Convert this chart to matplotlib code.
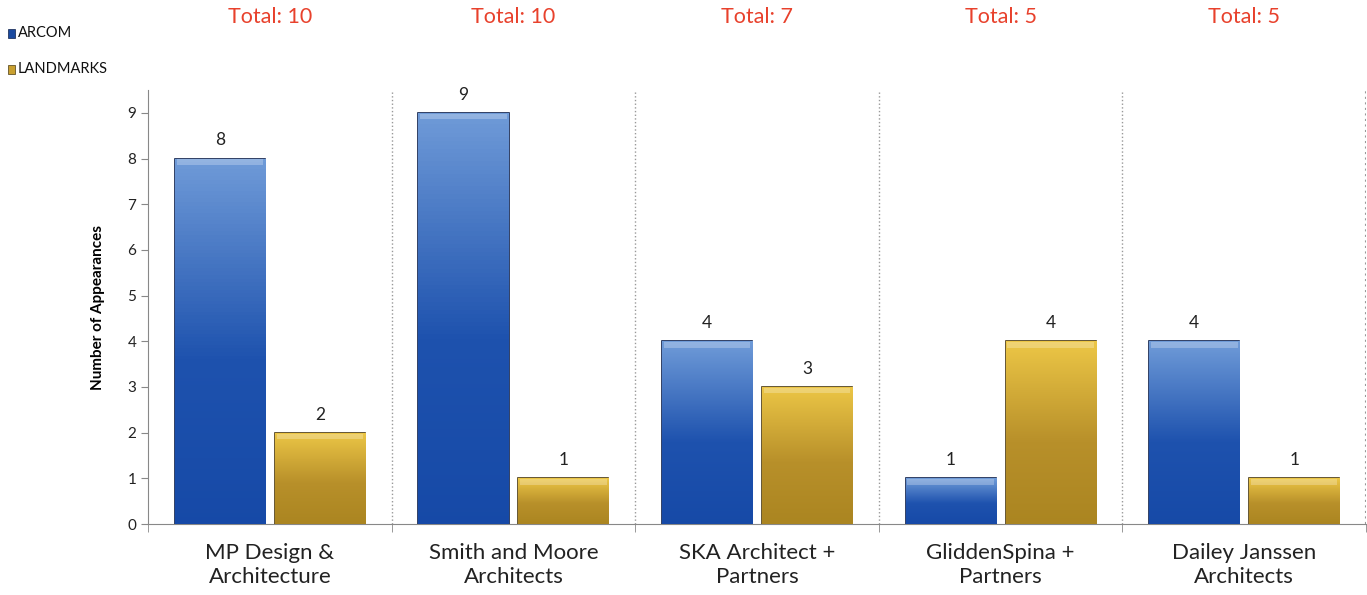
import matplotlib
matplotlib.use("Agg")
import matplotlib.pyplot as plt
import matplotlib.transforms as mtransforms
import numpy as np
from matplotlib.colors import LinearSegmentedColormap

plt.rcParams['font.family'] = ['Lato', 'DejaVu Sans']

firms = ["MP Design &\nArchitecture", "Smith and Moore\nArchitects", "SKA Architect +\nPartners",
         "GliddenSpina +\nPartners", "Dailey Janssen\nArchitects"]
arcom = [8, 9, 4, 1, 4]
landmarks = [2, 1, 3, 4, 1]
totals = [a + b for a, b in zip(arcom, landmarks)]

fig = plt.figure(figsize=(13.67, 5.95), dpi=100)
ax = fig.add_axes([0.1083, 0.1193, 0.8910, 0.7294])

x = np.arange(len(firms))
w = 0.37
off = 0.205

blue_cm = LinearSegmentedColormap.from_list("b", ["#1548a6", "#1e52ae", "#6f9bd8"])
gold_cm = LinearSegmentedColormap.from_list("g", ["#a8831f", "#b8902a", "#ecc646"])

def draw_bars(xs, vals, cmap, edge, label):
    bars = ax.bar(xs, vals, w, color=cmap(0.4), edgecolor=edge, linewidth=1.2, label=label, zorder=3)
    grad = np.linspace(0, 1, 100).reshape(-1, 1)
    for b in bars:
        x0, y0 = b.get_x(), b.get_y()
        bw, bh = b.get_width(), b.get_height()
        im = ax.imshow(grad, cmap=cmap, origin="lower", aspect="auto",
                       extent=(x0, x0 + bw, y0, y0 + bh), zorder=3.5,
                       vmin=-0.1, vmax=1.0)
        im.set_clip_path(b)
        # light top strip
        ax.bar(x0 + bw / 2, 0.12, bw * 0.96, bottom=bh - 0.14, color="white", alpha=0.25,
               linewidth=0, zorder=4)
        ax.text(x0 + bw / 2, bh + 0.22, str(int(bh)), ha="center", va="bottom",
                fontsize=12.5, color="#222222")
    return bars

draw_bars(x - off, arcom, blue_cm, "#0d1f4a", "ARCOM")
draw_bars(x + off, landmarks, gold_cm, "#4a3a10", "LANDMARKS")

ax.set_xlim(-0.5, len(firms) - 0.5)
ax.set_ylim(0, 9.5)
ax.set_yticks(range(10))
ax.tick_params(axis="y", labelsize=11, length=5, color="#888888", colors="#222222")
ax.set_ylabel("Number of Appearances", fontsize=11, fontweight="bold", labelpad=16)

ax.set_xticks(x)
ax.set_xticklabels(firms, fontsize=16, color="#222222")
ax.tick_params(axis="x", length=0, pad=14)
ax.set_xticks(np.arange(-0.5, len(firms)), minor=True)
ax.tick_params(axis="x", which="minor", length=6, color="#888888", direction="out")

for b in np.arange(0.5, len(firms) - 0.5):
    ax.axvline(b, color="#999999", linestyle=":", linewidth=1, zorder=1)
ax.axvline(len(firms) - 0.5, color="#999999", linestyle=":", linewidth=1.5, zorder=1)

for s in ["top", "right"]:
    ax.spines[s].set_visible(False)
ax.spines["left"].set_color("#888888")
ax.spines["bottom"].set_color("#888888")

trans = mtransforms.blended_transform_factory(ax.transData, fig.transFigure)
for xi, t in zip(x, totals):
    ax.text(xi, 0.971, "Total: %d" % t, transform=trans, ha="center", va="center",
            fontsize=15.5, color="#e8412c")

# legend
fig.patches.append(plt.Rectangle((0.0055, 0.936), 0.0055, 0.015, transform=fig.transFigure,
                                 facecolor="#1a4aa0", edgecolor="#0d1f4a", lw=0.5))
fig.text(0.0128, 0.944, "ARCOM", fontsize=10.5, va="center", color="#111111")
fig.patches.append(plt.Rectangle((0.0055, 0.876), 0.0055, 0.015, transform=fig.transFigure,
                                 facecolor="#c9a030", edgecolor="#4a3a10", lw=0.5))
fig.text(0.0128, 0.884, "LANDMARKS", fontsize=10.5, va="center", color="#111111")

fig.savefig("out.png", dpi=100)
